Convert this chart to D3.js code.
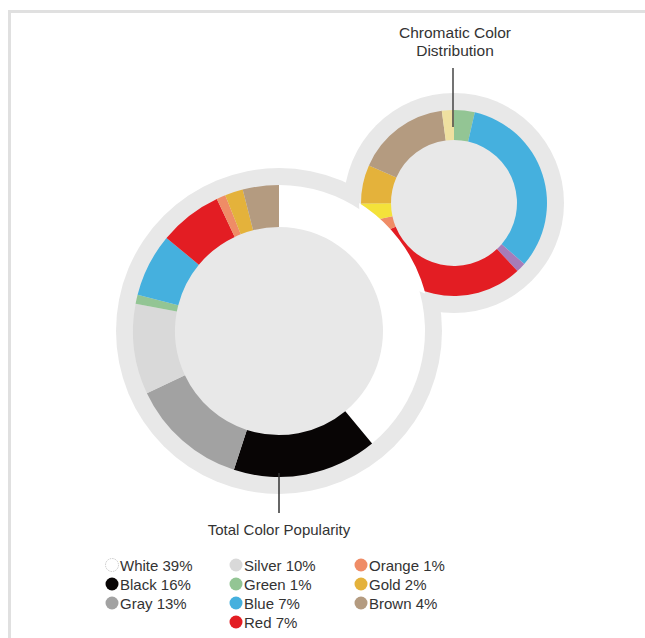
<!DOCTYPE html>
<html>
<head>
<meta charset="utf-8">
<script src="https://cdn.jsdelivr.net/npm/d3@7"></script>
<style>
  html, body { margin: 0; padding: 0; background: #fff; }
  svg { display: block; }
  text { font-family: "Helvetica Neue", Helvetica, "Liberation Sans", Arial, sans-serif; }
</style>
</head>
<body>
<svg id="chart" width="645" height="638"></svg>
<script>
// ---- data ----
const totalCategories = ["White", "Black", "Gray", "Silver", "Green", "Blue", "Red", "Orange", "Gold", "Brown"];
const totalValues = [39, 16, 13, 10, 1, 7, 7, 1, 2, 4];
const totalColors = ["#ffffff", "#080505", "#a2a2a2", "#d9d9d9", "#93c594", "#45b0de", "#e31d23", "#ef8c66", "#e4b23b", "#b49b80"];

const chromaticCategories = ["Green", "Blue", "Purple", "Red", "Orange", "Yellow", "Gold", "Brown", "Beige"];
const chromaticValues = [3.6, 32.8, 1.7, 30.8, 2.8, 3.3, 6.7, 16.3, 2.1];
const chromaticColors = ["#93c594", "#45b0de", "#a67cb9", "#e31d23", "#ef8c66", "#f4e23a", "#e4b23b", "#b49b80", "#efe0a0"];

const legendColumnSizes = [3, 4, 3];
const totalTitle = "Total Color Popularity";
const chromaticTitle = ["Chromatic Color", "Distribution"];

// ---- layout ----
const svg = d3.select("#chart");
const bg = "#e8e8e8";
const big = { cx: 279, cy: 331, rDisk: 163, rIn: 104, rOut: 146, rWhiteCut: 151 };
const small = { cx: 454, cy: 203, rDisk: 110, rIn: 63, rOut: 93 };

// frame
svg.append("path")
  .attr("d", "M9.5,638 V11.5 H645")
  .attr("fill", "none")
  .attr("stroke", "#e0e0e0")
  .attr("stroke-width", 3);

const pie = d3.pie().sort(null).value(d => d);

// background disks
svg.append("circle").attr("cx", big.cx).attr("cy", big.cy).attr("r", big.rDisk).attr("fill", bg);
svg.append("circle").attr("cx", small.cx).attr("cy", small.cy).attr("r", small.rDisk).attr("fill", bg);

// small (chromatic) donut
const gSmall = svg.append("g").attr("transform", `translate(${small.cx},${small.cy})`);
const arcSmall = d3.arc().innerRadius(small.rIn).outerRadius(small.rOut);
gSmall.selectAll("path")
  .data(pie(chromaticValues))
  .join("path")
  .attr("d", arcSmall)
  .attr("fill", (d, i) => chromaticColors[i]);

// big (total) donut
const gBig = svg.append("g").attr("transform", `translate(${big.cx},${big.cy})`);
const arcBig = d3.arc().innerRadius(big.rIn).outerRadius(big.rOut);
const bigArcs = pie(totalValues);
gBig.selectAll("path.seg")
  .data(bigArcs)
  .join("path")
  .attr("class", "seg")
  .attr("d", arcBig)
  .attr("fill", (d, i) => totalColors[i]);

// white segment cuts into the small donut where they overlap
svg.append("clipPath").attr("id", "smallClip")
  .append("circle").attr("cx", small.cx - big.cx).attr("cy", small.cy - big.cy).attr("r", small.rOut + 2);
gBig.append("path")
  .attr("d", d3.arc().innerRadius(big.rIn).outerRadius(big.rWhiteCut)(bigArcs[0]))
  .attr("fill", totalColors[0])
  .attr("clip-path", "url(#smallClip)");

// leader lines & titles
svg.append("line")
  .attr("x1", big.cx).attr("x2", big.cx)
  .attr("y1", big.cy + big.rOut - 4).attr("y2", 513)
  .attr("stroke", "#333").attr("stroke-width", 1.5);
svg.append("text")
  .attr("x", big.cx).attr("y", 535)
  .attr("text-anchor", "middle")
  .attr("font-size", 15).attr("fill", "#333")
  .text(totalTitle);

svg.append("line")
  .attr("x1", small.cx - 1).attr("x2", small.cx - 1)
  .attr("y1", 68).attr("y2", small.cy - small.rOut + 17)
  .attr("stroke", "#444").attr("stroke-width", 1.5);
svg.append("text")
  .attr("x", small.cx + 1).attr("y", 38)
  .attr("text-anchor", "middle")
  .attr("font-size", 15.5).attr("fill", "#333")
  .selectAll("tspan")
  .data(chromaticTitle)
  .join("tspan")
  .attr("x", small.cx + 1)
  .attr("dy", (d, i) => i === 0 ? 0 : 17.5)
  .text(d => d);

// legend
const colX = [112, 236, 361];
const rowY0 = 565, rowH = 19;
const legendItems = [];
let idx = 0;
legendColumnSizes.forEach((n, c) => {
  for (let r = 0; r < n; r++) {
    legendItems.push({ i: idx, col: c, row: r });
    idx++;
  }
});
const lg = svg.append("g");
const item = lg.selectAll("g")
  .data(legendItems)
  .join("g")
  .attr("transform", d => `translate(${colX[d.col]},${rowY0 + d.row * rowH})`);
item.append("circle")
  .attr("r", 6.5)
  .attr("fill", d => totalColors[d.i])
  .attr("stroke", d => d.i === 0 ? "#bbb" : "none")
  .attr("stroke-width", 0.8)
  .attr("stroke-dasharray", d => d.i === 0 ? "1.5,1" : null);
item.append("text")
  .attr("x", 8)
  .attr("y", 5.5)
  .attr("font-size", 15)
  .attr("fill", "#333")
  .text(d => `${totalCategories[d.i]} ${totalValues[d.i]}%`);
</script>
</body>
</html>
